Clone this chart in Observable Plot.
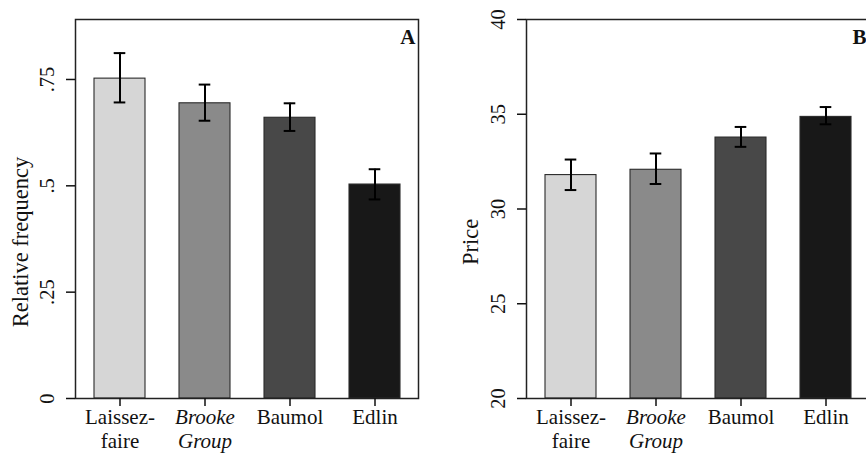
<!DOCTYPE html>
<html><head><meta charset="utf-8">
<script src="https://cdn.jsdelivr.net/npm/d3@7"></script>
<script src="https://cdn.jsdelivr.net/npm/@observablehq/plot@0.6"></script>
<style>
html,body{margin:0;padding:0;background:#fff;overflow:hidden;width:866px;height:455px;}
#wrap{position:relative;width:866px;height:455px;overflow:hidden;}
#a,#b{position:absolute;top:0;}
#a{left:0px;width:433px;} #b{left:433px;width:436px;}
svg{display:block;max-width:none !important;}
svg text{font-family:'Liberation Serif','Times New Roman',Times,serif !important;}
</style></head><body><div id="wrap"><div id="a"></div><div id="b"></div></div>
<script>
// ---- data ----
const categories = ["Laissez-faire", "Brooke Group", "Baumol", "Edlin"];
const categoryLabels = ["Laissez-\nfaire", "Brooke\nGroup", "Baumol", "Edlin"];
const italicCategories = ["Brooke Group"];
const fills = ["#d6d6d6", "#8a8a8a", "#484848", "#181818"];

const freqMean = [0.752, 0.694, 0.660, 0.503];
const freqLow  = [0.696, 0.653, 0.629, 0.468];
const freqHigh = [0.812, 0.738, 0.694, 0.539];
const freqTicks = [0, 0.25, 0.5, 0.75];
const freqTickLabels = ["0", ".25", ".5", ".75"];

const priceMean = [31.79, 32.07, 33.77, 34.86];
const priceLow  = [31.00, 31.32, 33.28, 34.47];
const priceHigh = [32.61, 32.93, 34.33, 35.38];
const priceTicks = [20, 25, 30, 35, 40];
const priceTickLabels = ["20", "25", "30", "35", "40"];

const FONT = "'Liberation Serif','Times New Roman',Times,serif";

function panel({width, marginLeft, marginRight, mean, low, high, yDomain, ticks, tickLabels, yLabel, letter, titleDx}) {
  const rows = categories.map((c, i) => ({cat: c, mean: mean[i], low: low[i], high: high[i], fill: fills[i]}));
  const fmt = new Map(ticks.map((t, i) => [t, tickLabels[i]]));
  const lab = new Map(categories.map((c, i) => [c, categoryLabels[i]]));
  const plainCats = categories.filter(c => !italicCategories.includes(c));
  const xAxisOpts = {tickSize: 8, tickPadding: 1, tickFormat: d => lab.get(d), fontSize: 21, lineHeight: 1.12,
    label: null, strokeWidth: 1.5, fontFamily: FONT};
  return Plot.plot({
    width, height: 455, marginLeft, marginRight, marginTop: 19, marginBottom: 57,
    style: {fontFamily: FONT, background: "#fff", color: "#111", overflow: "visible"},
    x: {domain: categories, paddingInner: 0.4, paddingOuter: 0.2, axis: null},
    y: {domain: yDomain, axis: null},
    color: {type: "identity"},
    marks: [
      Plot.barY(rows, {x: "cat", y1: yDomain[0], y2: "mean", fill: "fill", stroke: "#2a2a2a", strokeWidth: 1.1}),
      Plot.ruleX(rows, {x: "cat", y1: "low", y2: "high", stroke: "#000", strokeWidth: 2}),
      Plot.tickY(rows, {x: "cat", y: "high", inset: 19.7, stroke: "#000", strokeWidth: 2}),
      Plot.tickY(rows, {x: "cat", y: "low", inset: 19.7, stroke: "#000", strokeWidth: 2}),
      Plot.frame({stroke: "#222", strokeWidth: 1.5}),
      Plot.axisY(ticks, {anchor: "left", tickSize: 9, tickPadding: 13, tickRotate: -90, textAnchor: "middle", lineAnchor: "bottom",
        tickFormat: d => fmt.get(d), fontSize: 20.5, label: null, strokeWidth: 1.5, fontFamily: FONT}),
      Plot.axisX(plainCats, {anchor: "bottom", ...xAxisOpts}),
      Plot.axisX(italicCategories, {anchor: "bottom", ...xAxisOpts, fontStyle: "italic"}),
      Plot.text([yLabel], {text: d => d, frameAnchor: "left", rotate: -90, dx: titleDx, dy: 33,
        textAnchor: "middle", lineAnchor: "bottom", fontSize: 22.5, fill: "#111", fontFamily: FONT}),
      Plot.text([letter], {text: d => d, frameAnchor: "top-right", dx: -3, dy: 24,
        textAnchor: "end", lineAnchor: "bottom", fontSize: 21, fontWeight: "bold", fill: "#111", fontFamily: FONT})
    ]
  });
}

document.getElementById("a").append(panel({
  width: 433, marginLeft: 75, marginRight: 15,
  mean: freqMean, low: freqLow, high: freqHigh,
  yDomain: [0, 0.891], ticks: freqTicks, tickLabels: freqTickLabels,
  yLabel: "Relative frequency", letter: "A", titleDx: -48
}));
document.getElementById("b").append(panel({
  width: 436, marginLeft: 93, marginRight: 0,
  mean: priceMean, low: priceLow, high: priceHigh,
  yDomain: [20, 40], ticks: priceTicks, tickLabels: priceTickLabels,
  yLabel: "Price", letter: "B", titleDx: -49
}));
</script>
</body></html>
